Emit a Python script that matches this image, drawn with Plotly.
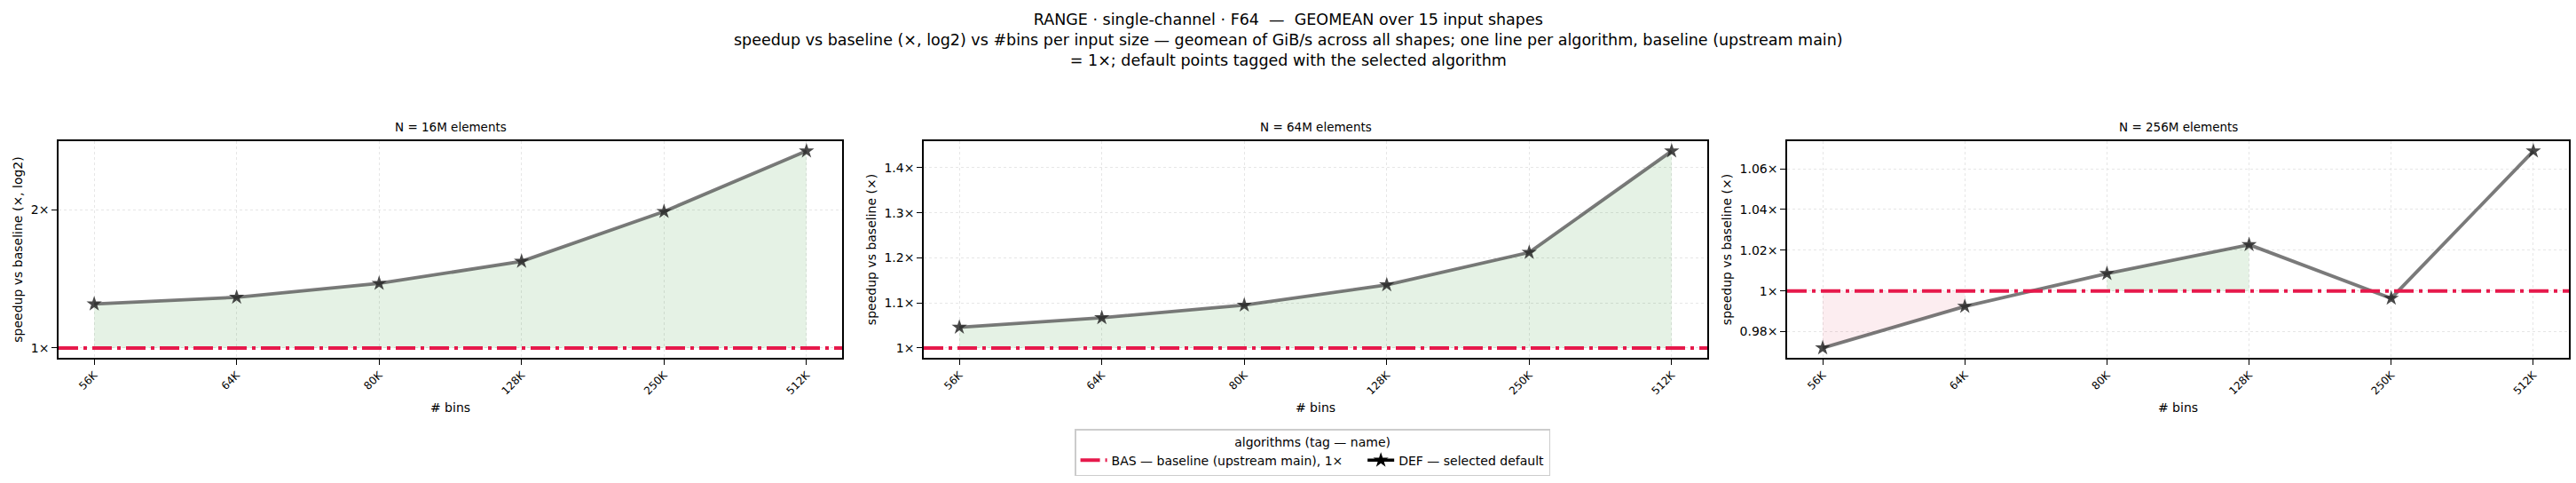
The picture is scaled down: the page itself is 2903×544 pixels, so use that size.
import math
import plotly.graph_objects as go
from plotly.subplots import make_subplots

# valeurs
bins = ["56K", "64K", "80K", "128K", "250K", "512K"]
panel_titles = ["N = 16M elements", "N = 64M elements", "N = 256M elements"]
speedup_16m = [1.247, 1.29, 1.383, 1.545, 1.985, 2.69]
speedup_64m = [1.046, 1.067, 1.095, 1.140, 1.212, 1.437]
speedup_256m = [0.972, 0.9924, 1.0085, 1.0227, 0.9964, 1.0687]
baseline = 1.0

yticks_16m = [1, 2]
yticks_64m = [1, 1.1, 1.2, 1.3, 1.4]
yticks_256m = [0.98, 1, 1.02, 1.04, 1.06]

FONT = "DejaVu Sans"
RED = "#e6194b"
DASHDOT = "22px,6px,4px,6px"

fig = make_subplots(rows=1, cols=3, horizontal_spacing=0.03)

# domaines des trois panneaux (pixels -> papier)
W, H = 2903, 544
x_doms = [(66, 949), (1041, 1924), (2014, 2895)]
y_dom = [1 - 403 / H, 1 - 159 / H]


def runs(ys, above):
    # segments consecutifs au-dessus / en-dessous de la baseline (comme fill_between where=)
    out, cur = [], []
    for i, y in enumerate(ys):
        ok = y >= baseline if above else y < baseline
        if ok:
            cur.append(i)
        else:
            if len(cur) > 1:
                out.append(cur)
            cur = []
    if len(cur) > 1:
        out.append(cur)
    return out


def add_fill(ys, col):
    for above, color in [(True, "rgba(0,128,0,0.10)"), (False, "rgba(220,20,60,0.08)")]:
        for run in runs(ys, above):
            xs = [bins[i] for i in run] + [bins[i] for i in reversed(run)]
            yy = [ys[i] for i in run] + [baseline] * len(run)
            fig.add_trace(go.Scatter(
                x=xs, y=yy, fill="toself", fillcolor=color, mode="lines",
                line=dict(width=0), showlegend=False, hoverinfo="skip"
            ), row=1, col=col)


series = [speedup_16m, speedup_64m, speedup_256m]
for k, ys in enumerate(series):
    col = k + 1
    add_fill(ys, col)
    fig.add_trace(go.Scatter(
        x=bins, y=ys, mode="lines+markers",
        line=dict(color="rgba(70,70,70,0.72)", width=3.8),
        marker=dict(symbol="star", size=13, color="rgba(40,40,40,0.85)"),
        showlegend=False
    ), row=1, col=col)
    fig.add_hline(y=baseline, line=dict(color=RED, width=4, dash=DASHDOT), row=1, col=col)

# entrees de legende
fig.add_trace(go.Scatter(
    x=[None], y=[None], mode="lines", name="BAS — baseline (upstream main), 1×&nbsp;&nbsp;&nbsp;&nbsp;",
    line=dict(color=RED, width=4, dash=DASHDOT)
), row=1, col=2)
fig.add_trace(go.Scatter(
    x=[None], y=[None], mode="lines+markers", name="DEF — selected default",
    line=dict(color="black", width=3.5),
    marker=dict(symbol="star", size=13, color="black")
), row=1, col=2)


def yrange(ys, log=False):
    vals = ys + [baseline]
    if log:
        vals = [math.log10(v) for v in vals]
    lo, hi = min(vals), max(vals)
    m = (hi - lo) * 0.05
    return [lo - m, hi + m]


def fmt(v):
    return f"{v:g}×"


ytick_sets = [yticks_16m, yticks_64m, yticks_256m]
ytitles = ["speedup vs baseline (×, log2)", "speedup vs baseline (×)", "speedup vs baseline (×)"]
axis_common = dict(
    showline=True, linecolor="black", linewidth=1.5, mirror=True,
    ticks="outside", ticklen=6, tickcolor="black",
    showgrid=True, gridcolor="#e6e6e6", griddash="dot", gridwidth=1,
    zeroline=False, automargin=False
)
for k in range(3):
    col = k + 1
    d0, d1 = x_doms[k]
    fig.update_xaxes(
        domain=[d0 / W, d1 / W], type="category", categoryorder="array", categoryarray=bins,
        range=[-0.25, len(bins) - 0.75], tickangle=-45,
        tickfont=dict(family=FONT, size=12, color="black"),
        title=dict(text="# bins", font=dict(family=FONT, size=14, color="black"), standoff=8),
        row=1, col=col, **axis_common
    )
    log = k == 0
    fig.update_yaxes(
        domain=y_dom, type="log" if log else "linear",
        range=yrange(series[k], log),
        tickvals=ytick_sets[k], ticktext=[fmt(v) for v in ytick_sets[k]],
        tickfont=dict(family=FONT, size=14, color="black"),
        title=dict(text=ytitles[k], font=dict(family=FONT, size=14, color="black"), standoff=6),
        row=1, col=col, **axis_common
    )
    fig.add_annotation(
        text=panel_titles[k], x=(d0 + d1) / 2 / W, y=y_dom[1], xref="paper", yref="paper",
        xanchor="center", yanchor="bottom", yshift=6, showarrow=False,
        font=dict(family=FONT, size=13.5, color="black")
    )

title_text = (
    "RANGE · single-channel · F64 &nbsp;— &nbsp;GEOMEAN over 15 input shapes<br>"
    "speedup vs baseline (×, log2) vs #bins per input size — geomean of GiB/s across all shapes; "
    "one line per algorithm, baseline (upstream main)<br>"
    "= 1×; default points tagged with the selected algorithm"
)
# titre general en annotation (le titre plotly multi-ligne sortait du cadre)
fig.add_annotation(
    text=title_text, x=0.5, y=1, xref="paper", yref="paper",
    xanchor="center", yanchor="top", yshift=-10, showarrow=False,
    font=dict(family=FONT, size=17.5, color="black")
)

fig.update_layout(
    width=W, height=H,
    margin=dict(l=0, r=0, t=0, b=0),
    plot_bgcolor="white", paper_bgcolor="white",
    font=dict(family=FONT, color="black"),
    legend=dict(
        orientation="h", x=0.5095, xanchor="center", y=1 - 483 / H, yanchor="top",
        title=dict(text="algorithms (tag — name)", side="top center",
                   font=dict(family=FONT, size=14, color="black")),
        font=dict(family=FONT, size=14, color="black"),
        bordercolor="#cccccc", borderwidth=1.5, bgcolor="white",
    ),
    showlegend=True,
)

fig.write_html("out.html", config={"displayModeBar": False},
               post_script="document.body.style.margin='0';")
